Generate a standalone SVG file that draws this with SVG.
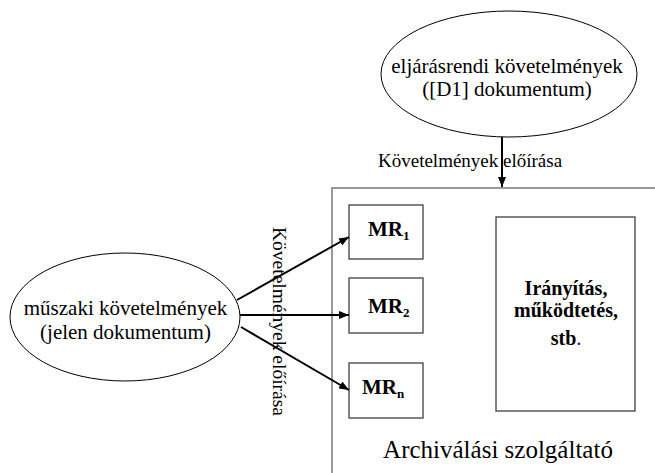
<svg xmlns="http://www.w3.org/2000/svg" width="655" height="473" viewBox="0 0 655 473">
<style>
text { font-family: "Liberation Serif", "Times New Roman", serif; fill: #000; }
.ell { fill: #fff; stroke: #000; stroke-width: 1; }
.box { fill: #fff; stroke: #404040; stroke-width: 1.3; }
.cont { fill: none; stroke: #808080; stroke-width: 1.6; }
.conn { stroke: #000; stroke-width: 2; fill: none; }
.lbl { font-size: 19px; }
.big { font-size: 21px; }
.bold { font-size: 20px; font-weight: bold; }
.mr { font-size: 21px; font-weight: bold; }
.sub { font-size: 13px; }
</style>
<defs>
<marker id="ah" markerUnits="userSpaceOnUse" markerWidth="10" markerHeight="8" refX="10" refY="4" orient="auto">
<path d="M0,0 L10,4 L0,8 z" fill="#000"/>
</marker>
</defs>
<rect x="0" y="0" width="655" height="473" fill="#fff"/>
<g id="container">
<rect class="cont" x="332" y="188" width="400" height="400"/>
<text x="498" y="458" font-size="25" text-anchor="middle">Archiválási szolgáltató</text>
</g>
<g id="top-ellipse">
<ellipse class="ell" cx="509" cy="74" rx="128" ry="63"/>
<text class="big" x="507" y="73" text-anchor="middle">eljárásrendi követelmények</text>
<text class="big" x="507" y="96" text-anchor="middle">([D1] dokumentum)</text>
</g>
<g id="left-ellipse">
<ellipse class="ell" cx="125" cy="317" rx="115" ry="64"/>
<text class="big" x="125.5" y="315" text-anchor="middle">műszaki követelmények</text>
<text class="big" x="125.5" y="339" text-anchor="middle">(jelen dokumentum)</text>
</g>
<g id="mr1">
<rect class="box" x="349" y="205" width="74" height="54"/>
<text class="mr" x="368" y="236">MR<tspan class="sub" dy="4">1</tspan></text>
</g>
<g id="mr2">
<rect class="box" x="349" y="278" width="74" height="55"/>
<text class="mr" x="368" y="313">MR<tspan class="sub" dy="4">2</tspan></text>
</g>
<g id="mrn">
<rect class="box" x="349" y="363" width="74" height="55"/>
<text class="mr" x="362" y="394">MR<tspan class="sub" dy="4">n</tspan></text>
</g>
<g id="control">
<rect class="box" x="496" y="217" width="139" height="194"/>
<text class="bold" x="566" y="295" text-anchor="middle">Irányítás,</text>
<text class="bold" x="566" y="317" text-anchor="middle">működtetés,</text>
<text class="bold" x="566" y="345" text-anchor="middle">stb<tspan font-weight="normal" fill="#0000cc">.</tspan></text>
</g>
<g id="connectors">
<line class="conn" x1="502" y1="137" x2="502" y2="187" marker-end="url(#ah)"/>
<line class="conn" x1="237" y1="300" x2="349" y2="237" marker-end="url(#ah)"/>
<line class="conn" x1="240" y1="315" x2="349" y2="315" marker-end="url(#ah)"/>
<line class="conn" x1="241" y1="327" x2="349" y2="390" marker-end="url(#ah)"/>
<text class="lbl" x="378" y="167">Követelmények előírása</text>
<text font-size="19.5" transform="translate(273,227) rotate(90)">Követelmények előírása</text>
</g>
</svg>
